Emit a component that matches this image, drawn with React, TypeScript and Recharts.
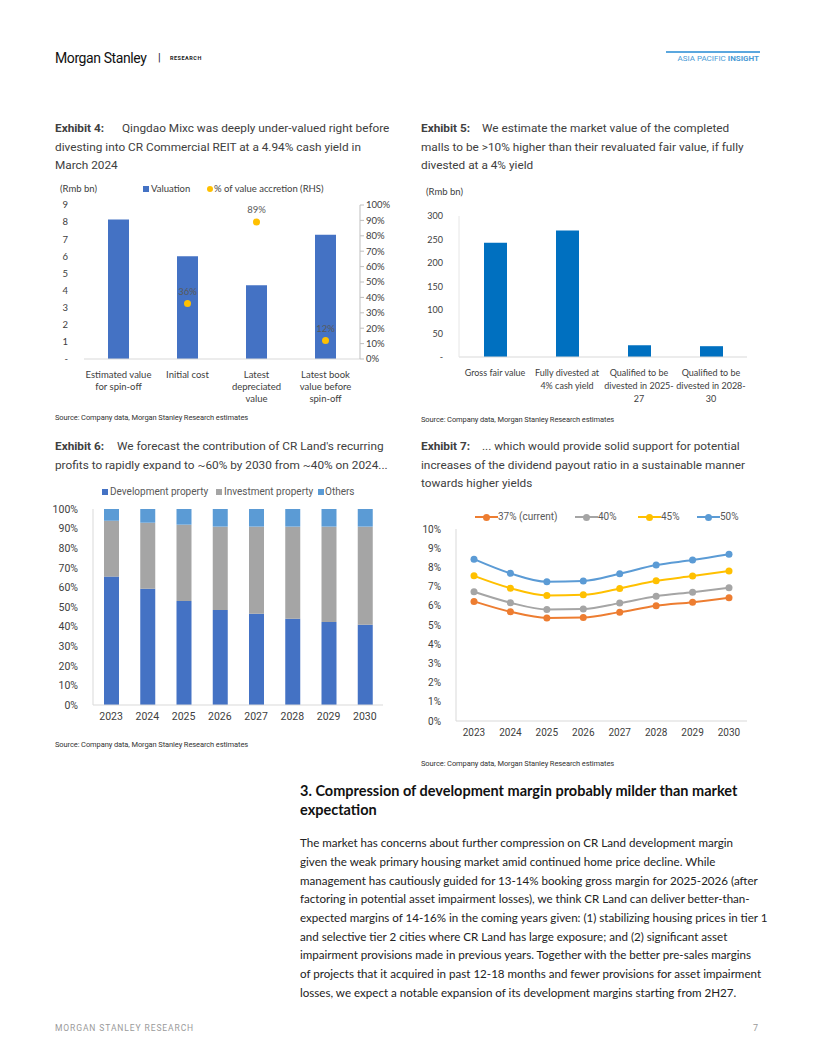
import React from "react"
import {
  ComposedChart,
  BarChart,
  LineChart,
  Bar,
  Line,
  XAxis,
  YAxis,
  LabelList,
} from "recharts"

// ---- Exhibit 4 ----
const ex4Categories = [
  "Estimated value\nfor spin-off",
  "Initial cost",
  "Latest\ndepreciated\nvalue",
  "Latest book\nvalue before\nspin-off",
]
const ex4Valuation = [8.15, 6.0, 4.31, 7.26]
const ex4Accretion = [null, 36, 89, 12]
const ex4LeftTicks = [0, 1, 2, 3, 4, 5, 6, 7, 8, 9]
const ex4RightTicks = [0, 10, 20, 30, 40, 50, 60, 70, 80, 90, 100]

// ---- Exhibit 5 ----
const ex5Categories = [
  "Gross fair value",
  "Fully divested at\n4% cash yield",
  "Qualified to be\ndivested in 2025-\n27",
  "Qualified to be\ndivested in 2028-\n30",
]
const ex5Values = [243, 269, 25, 23]
const ex5Ticks = [0, 50, 100, 150, 200, 250, 300]

// ---- Exhibit 6 ----
const ex6Years = ["2023", "2024", "2025", "2026", "2027", "2028", "2029", "2030"]
const ex6Development = [65.5, 59.3, 53, 48.5, 46.6, 44, 42.3, 41]
const ex6Investment = [28.5, 33.7, 39, 42.5, 44.4, 47, 48.7, 50]
const ex6Others = [6, 7, 8, 9, 9, 9, 9, 9]
const ex6Ticks = [0, 10, 20, 30, 40, 50, 60, 70, 80, 90, 100]

// ---- Exhibit 7 ----
const ex7Years = ["2023", "2024", "2025", "2026", "2027", "2028", "2029", "2030"]
const ex7Payout37 = [6.23, 5.69, 5.37, 5.39, 5.67, 6.0, 6.19, 6.42]
const ex7Payout40 = [6.73, 6.16, 5.81, 5.83, 6.14, 6.5, 6.71, 6.94]
const ex7Payout45 = [7.56, 6.92, 6.54, 6.57, 6.9, 7.3, 7.55, 7.81]
const ex7Payout50 = [8.43, 7.69, 7.25, 7.29, 7.67, 8.12, 8.38, 8.68]
const ex7Ticks = [0, 1, 2, 3, 4, 5, 6, 7, 8, 9, 10]

const bodyLines = [
  "The market has concerns about further compression on CR Land development margin",
  "given the weak primary housing market amid continued home price decline. While",
  "management has cautiously guided for 13-14% booking gross margin for 2025-2026 (after",
  "factoring in potential asset impairment losses), we think CR Land can deliver better-than-",
  "expected margins of 14-16% in the coming years given: (1) stabilizing housing prices in tier 1",
  "and selective tier 2 cities where CR Land has large exposure; and (2) significant asset",
  "impairment provisions made in previous years. Together with the better pre-sales margins",
  "of projects that it acquired in past 12-18 months and fewer provisions for asset impairment",
  "losses, we expect a notable expansion of its development margins starting from 2H27.",
]

const ex4Data = ex4Categories.map((c, i) => ({
  name: c,
  valuation: ex4Valuation[i],
  accretion: ex4Accretion[i],
}))
const ex5Data = ex5Categories.map((c, i) => ({ name: c, value: ex5Values[i] }))
const ex6Data = ex6Years.map((y, i) => ({
  year: y,
  dev: ex6Development[i],
  inv: ex6Investment[i],
  oth: ex6Others[i],
}))
const ex7Data = ex7Years.map((y, i) => ({
  year: y,
  p37: ex7Payout37[i],
  p40: ex7Payout40[i],
  p45: ex7Payout45[i],
  p50: ex7Payout50[i],
}))

const ex7Series = [
  { key: "p37", name: "37% (current)", color: "#ED7D31" },
  { key: "p40", name: "40%", color: "#A5A5A5" },
  { key: "p45", name: "45%", color: "#FFC000" },
  { key: "p50", name: "50%", color: "#5B9BD5" },
]

const ex6Series = [
  { key: "dev", name: "Development property", color: "#4472C4" },
  { key: "inv", name: "Investment property", color: "#A5A5A5" },
  { key: "oth", name: "Others", color: "#5B9BD5" },
]

const titleFont = "Roboto, 'Noto Sans', sans-serif"
const chartFont = "Lato, 'Liberation Sans', sans-serif"
const textGrey = "#404040"

const Txt = ({
  x,
  cy,
  size,
  children,
  style,
}: {
  x: number
  cy: number
  size: number
  children: React.ReactNode
  style?: React.CSSProperties
}) => (
  <div
    style={{
      position: "absolute",
      left: x,
      top: cy - 10,
      height: 20,
      lineHeight: "20px",
      fontSize: size,
      whiteSpace: "nowrap",
      ...style,
    }}
  >
    {children}
  </div>
)

const MultiTick = ({ x, y, payload, first, gap, size }: any) => {
  const lines = String(payload.value).split("\n")
  return (
    <text
      x={x}
      y={y}
      textAnchor="middle"
      fill="#404040"
      fontSize={size}
      fontFamily={chartFont}
    >
      {lines.map((l, i) => (
        <tspan key={i} x={x} dy={i === 0 ? first : gap}>
          {l}
        </tspan>
      ))}
    </text>
  )
}

const Title = ({
  x,
  textX,
  y,
  label,
  lines,
}: {
  x: number
  textX: number
  y: number
  label: string
  lines: string[]
}) => (
  <>
    <Txt x={x} cy={y} size={11.8} style={{ fontFamily: titleFont, fontWeight: 700, color: textGrey }}>
      {label}
    </Txt>
    {lines.map((l, i) => (
      <Txt
        key={i}
        x={i === 0 ? textX : x}
        cy={y + i * 18.7}
        size={11.8}
        style={{ fontFamily: titleFont, color: textGrey }}
      >
        {l}
      </Txt>
    ))}
  </>
)

const Source = ({ x, cy }: { x: number; cy: number }) => (
  <Txt x={x} cy={cy} size={7.5} style={{ fontFamily: titleFont, color: "#333", letterSpacing: -0.1 }}>
    Source: Company data, Morgan Stanley Research estimates
  </Txt>
)

export default function App() {
  return (
    <div
      style={{
        position: "absolute",
        left: 0,
        top: 0,
        width: 816,
        height: 1056,
        background: "#fff",
        overflow: "hidden",
        fontFamily: titleFont,
      }}
    >
      {/* header */}
      <Txt x={55} cy={58} size={14} style={{ fontFamily: titleFont, color: "#111", letterSpacing: -0.4 }}>
        Morgan Stanley
      </Txt>
      <Txt x={158} cy={58} size={11} style={{ color: "#222" }}>
        |
      </Txt>
      <Txt x={170} cy={58} size={5.5} style={{ fontWeight: 700, color: "#222", letterSpacing: 0.5 }}>
        RESEARCH
      </Txt>
      <div style={{ position: "absolute", left: 666, top: 51, width: 94, height: 2, background: "#5BA7DE" }} />
      <div
        style={{
          position: "absolute",
          right: 57,
          top: 53,
          lineHeight: "12px",
          fontSize: 8,
          color: "#4A9BD6",
          whiteSpace: "nowrap",
        }}
      >
        ASIA PACIFIC <b>INSIGHT</b>
      </div>

      {/* Exhibit 4 */}
      <Title
        x={55}
        textX={122}
        y={128}
        label="Exhibit 4:"
        lines={[
          "Qingdao Mixc was deeply under-valued right before",
          "divesting into CR Commercial REIT at a 4.94% cash yield in",
          "March 2024",
        ]}
      />
      <Txt x={60} cy={189} size={9.5} style={{ fontFamily: chartFont, color: textGrey }}>
        (Rmb bn)
      </Txt>
      <div style={{ position: "absolute", left: 143, top: 186, width: 6, height: 6, background: "#4472C4" }} />
      <Txt x={151} cy={189} size={9.5} style={{ fontFamily: chartFont, color: textGrey }}>
        Valuation
      </Txt>
      <div
        style={{
          position: "absolute",
          left: 207,
          top: 186,
          width: 6,
          height: 6,
          borderRadius: 3,
          background: "#FFC000",
        }}
      />
      <Txt x={214} cy={189} size={9.5} style={{ fontFamily: chartFont, color: textGrey }}>
        % of value accretion (RHS)
      </Txt>
      <div style={{ position: "absolute", left: 50, top: 195 }}>
        <ComposedChart
          width={350}
          height={214}
          data={ex4Data}
          margin={{ top: 10, right: 0, bottom: 0, left: 0 }}
          style={{ fontFamily: chartFont }}
        >
          <XAxis
            dataKey="name"
            interval={0}
            axisLine={{ stroke: "#D9D9D9" }}
            tickLine={false}
            tickSize={0}
            height={50}
            tick={<MultiTick first={17} gap={12} size={9.5} />}
          />
          <YAxis
            yAxisId="left"
            width={34}
            domain={[0, 9]}
            ticks={ex4LeftTicks}
            axisLine={false}
            tickLine={false}
            tickMargin={10}
            tickFormatter={(v: number) => (v === 0 ? "-" : String(v))}
            tick={{ fill: textGrey, fontSize: 9.5 }}
          />
          <YAxis
            yAxisId="right"
            orientation="right"
            width={40}
            domain={[0, 100]}
            ticks={ex4RightTicks}
            axisLine={{ stroke: "#BFBFBF" }}
            tickLine={{ stroke: "#BFBFBF" }}
            tickSize={4}
            tickMargin={2}
            tickFormatter={(v: number) => `${v}%`}
            tick={{ fill: textGrey, fontSize: 9.5 }}
          />
          <Bar yAxisId="left" dataKey="valuation" fill="#4472C4" barSize={21} isAnimationActive={false} />
          <Line
            yAxisId="right"
            dataKey="accretion"
            stroke="none"
            strokeWidth={0}
            dot={{ r: 3.5, fill: "#FFC000", stroke: "#FFC000", strokeWidth: 0 }}
            activeDot={false}
            isAnimationActive={false}
          >
            <LabelList
              dataKey="accretion"
              content={(p: any) =>
                p.value == null ? null : (
                  <text
                    x={p.x}
                    y={p.y - 9}
                    textAnchor="middle"
                    fill="#595959"
                    fontSize={9.5}
                    fontFamily={chartFont}
                  >
                    {`${p.value}%`}
                  </text>
                )
              }
            />
          </Line>
        </ComposedChart>
      </div>
      <Source x={55} cy={418} />

      {/* Exhibit 5 */}
      <Title
        x={421}
        textX={482}
        y={128}
        label="Exhibit 5:"
        lines={[
          "We estimate the market value of the completed",
          "malls to be >10% higher than their revaluated fair value, if fully",
          "divested at a 4% yield",
        ]}
      />
      <Txt x={426} cy={192} size={9.5} style={{ fontFamily: chartFont, color: textGrey }}>
        (Rmb bn)
      </Txt>
      <div style={{ position: "absolute", left: 415, top: 205 }}>
        <BarChart
          width={360}
          height={200}
          data={ex5Data}
          margin={{ top: 11, right: 28, bottom: 0, left: 0 }}
          style={{ fontFamily: chartFont }}
        >
          <XAxis
            dataKey="name"
            interval={0}
            axisLine={{ stroke: "#D9D9D9" }}
            tickLine={false}
            tickSize={0}
            height={48}
            tick={<MultiTick first={16.5} gap={13} size={9} />}
          />
          <YAxis
            width={44}
            domain={[0, 300]}
            ticks={ex5Ticks}
            axisLine={{ stroke: "#E6E6E6" }}
            tickLine={false}
            tickMargin={10}
            tickFormatter={(v: number) => (v === 0 ? "-" : String(v))}
            tick={{ fill: textGrey, fontSize: 9 }}
          />
          <Bar dataKey="value" fill="#0070C0" barSize={23} isAnimationActive={false} />
        </BarChart>
      </div>
      <Source x={421} cy={420} />

      {/* Exhibit 6 */}
      <Title
        x={55}
        textX={117}
        y={446}
        label="Exhibit 6:"
        lines={[
          "We forecast the contribution of CR Land's recurring",
          "profits to rapidly expand to ~60% by 2030 from ~40% on 2024...",
        ]}
      />
      {ex6Series.map((s, i) => (
        <React.Fragment key={s.key}>
          <div
            style={{
              position: "absolute",
              left: [102, 216, 318][i],
              top: 489,
              width: 6,
              height: 6,
              background: s.color,
            }}
          />
          <Txt x={[110, 224, 325][i]} cy={492} size={10} style={{ color: "#595959" }}>
            {s.name}
          </Txt>
        </React.Fragment>
      ))}
      <div style={{ position: "absolute", left: 50, top: 500 }}>
        <BarChart
          width={345}
          height={230}
          data={ex6Data}
          margin={{ top: 9, right: 12, bottom: 0, left: 0 }}
          style={{ fontFamily: titleFont }}
        >
          <XAxis
            dataKey="year"
            axisLine={{ stroke: "#D9D9D9" }}
            tickLine={false}
            tickSize={0}
            tickMargin={8}
            height={25}
            tick={{ fill: textGrey, fontSize: 10.5 }}
          />
          <YAxis
            width={43}
            domain={[0, 100]}
            ticks={ex6Ticks}
            axisLine={{ stroke: "#D9D9D9" }}
            tickLine={false}
            tickMargin={9}
            tickFormatter={(v: number) => `${v}%`}
            tick={{ fill: textGrey, fontSize: 10.5 }}
          />
          {ex6Series.map((s) => (
            <Bar key={s.key} dataKey={s.key} stackId="a" fill={s.color} barSize={15} isAnimationActive={false} />
          ))}
        </BarChart>
      </div>
      <Source x={55} cy={745} />

      {/* Exhibit 7 */}
      <Title
        x={421}
        textX={482}
        y={446}
        label="Exhibit 7:"
        lines={[
          "... which would provide solid support for potential",
          "increases of the dividend payout ratio in a sustainable manner",
          "towards higher yields",
        ]}
      />
      {ex7Series.map((s, i) => {
        const lx = [475, 575, 638, 697][i]
        return (
          <React.Fragment key={s.key}>
            <div
              style={{ position: "absolute", left: lx, top: 516, width: 23, height: 2, background: s.color }}
            />
            <div
              style={{
                position: "absolute",
                left: lx + 8,
                top: 513.5,
                width: 7,
                height: 7,
                borderRadius: 4,
                background: s.color,
              }}
            />
            <Txt x={lx + 23} cy={517} size={10} style={{ color: "#595959" }}>
              {s.name}
            </Txt>
          </React.Fragment>
        )
      })}
      <div style={{ position: "absolute", left: 415, top: 520 }}>
        <LineChart
          width={360}
          height={226}
          data={ex7Data}
          margin={{ top: 9, right: 28, bottom: 0, left: 0 }}
          style={{ fontFamily: titleFont }}
        >
          <XAxis
            dataKey="year"
            axisLine={{ stroke: "#D9D9D9" }}
            tickLine={false}
            tickSize={0}
            tickMargin={8}
            height={25}
            padding={{ left: 18, right: 18 }}
            tick={{ fill: textGrey, fontSize: 10 }}
          />
          <YAxis
            width={41}
            domain={[0, 10]}
            ticks={ex7Ticks}
            axisLine={{ stroke: "#D9D9D9" }}
            tickLine={false}
            tickMargin={9}
            tickFormatter={(v: number) => `${v}%`}
            tick={{ fill: textGrey, fontSize: 10 }}
          />
          {ex7Series.map((s) => (
            <Line
              key={s.key}
              type="monotone"
              dataKey={s.key}
              stroke={s.color}
              strokeWidth={2}
              dot={{ r: 3.5, fill: s.color, stroke: s.color, strokeWidth: 0 }}
              activeDot={false}
              isAnimationActive={false}
            />
          ))}
        </LineChart>
      </div>
      <Source x={421} cy={764} />

      {/* Section text */}
      {["3. Compression of development margin probably milder than market", "expectation"].map((l, i) => (
        <Txt
          key={i}
          x={300}
          cy={791 + i * 19}
          size={14.5}
          style={{ fontFamily: "Lato, sans-serif", fontWeight: 700, color: "#111" }}
        >
          {l}
        </Txt>
      ))}
      {bodyLines.map((l, i) => (
        <Txt
          key={i}
          x={300}
          cy={843.3 + i * 18.65}
          size={11.6}
          style={{ fontFamily: "Lato, sans-serif", color: "#222" }}
        >
          {l}
        </Txt>
      ))}

      {/* footer */}
      <Txt x={55} cy={1028} size={8.5} style={{ color: "#9A9A9A", letterSpacing: 0.9 }}>
        MORGAN STANLEY RESEARCH
      </Txt>
      <Txt x={753} cy={1028} size={9} style={{ color: "#9A9A9A" }}>
        7
      </Txt>
    </div>
  )
}
